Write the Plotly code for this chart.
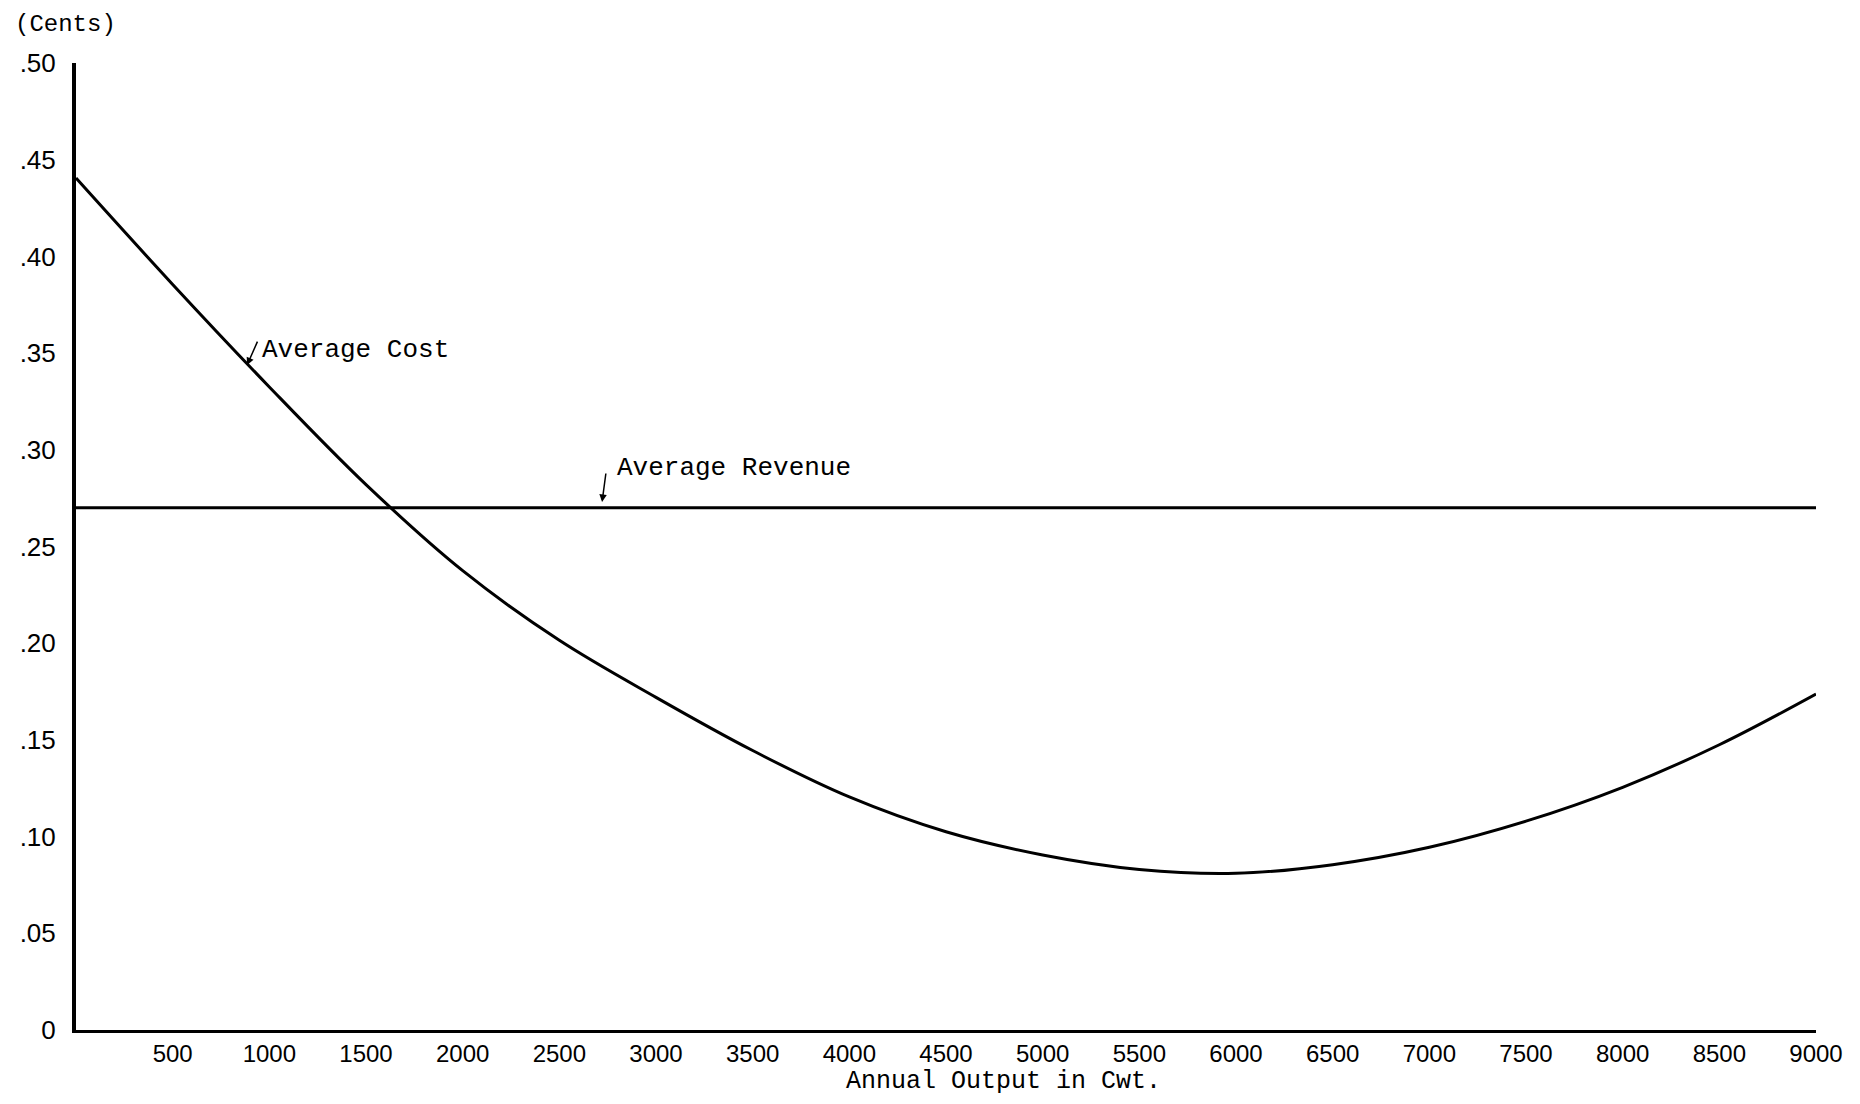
import plotly.graph_objects as go

# ---- data ----
output_cwt = [0, 500, 1000, 1500, 2000, 2500, 3000, 3500, 4000, 4500,
              5000, 5500, 6000, 6500, 7000, 7500, 8000, 8500, 9000]
avg_cost = [0.4405, 0.3855, 0.3325, 0.282, 0.2375, 0.2015, 0.172, 0.1445, 0.1205,
            0.1025, 0.0905, 0.0830, 0.0810, 0.0855, 0.0945, 0.1080, 0.1255, 0.1475, 0.1737]

revenue_cwt = [0, 9000]
avg_revenue = [0.27, 0.27]

x_tickvals = [500, 1000, 1500, 2000, 2500, 3000, 3500, 4000, 4500, 5000,
              5500, 6000, 6500, 7000, 7500, 8000, 8500, 9000]
x_ticktext = ["500", "1000", "1500", "2000", "2500", "3000", "3500", "4000", "4500",
              "5000", "5500", "6000", "6500", "7000", "7500", "8000", "8500", "9000"]
y_tickvals = [0, 0.05, 0.10, 0.15, 0.20, 0.25, 0.30, 0.35, 0.40, 0.45, 0.50]
y_ticktext = ["0", ".05", ".10", ".15", ".20", ".25", ".30", ".35", ".40", ".45", ".50"]

TYPE = "Liberation Mono"
NUM = "Liberation Sans"

fig = go.Figure()
fig.add_trace(go.Scatter(x=output_cwt, y=avg_cost, mode="lines",
                         line=dict(color="black", width=3, shape="spline", smoothing=1.0),
                         name="Average Cost", hoverinfo="x+y"))
fig.add_trace(go.Scatter(x=revenue_cwt, y=avg_revenue, mode="lines",
                         line=dict(color="black", width=3),
                         name="Average Revenue", hoverinfo="x+y"))

# page body has an 8px margin, so the figure is sized to fit the window exactly
fig.update_layout(
    width=1844, height=1088,
    margin=dict(l=68, r=36, t=55, b=66),
    plot_bgcolor="white", paper_bgcolor="white",
    showlegend=False,
    font=dict(family=NUM, color="black", size=24),
)
fig.update_xaxes(range=[0, 9000], tickvals=x_tickvals, ticktext=x_ticktext,
                 showline=True, linewidth=3, linecolor="black", mirror=False,
                 showgrid=False, zeroline=False, ticks="", ticklen=0,
                 tickfont=dict(family=NUM, size=24, color="black"),
                 ticklabelstandoff=0, automargin=False)
fig.update_yaxes(range=[0, 0.5], tickvals=y_tickvals, ticktext=y_ticktext,
                 showline=True, linewidth=4, linecolor="black",
                 showgrid=False, zeroline=False, ticks="", ticklen=0,
                 tickfont=dict(family=NUM, size=26, color="black"),
                 ticklabelstandoff=11, automargin=False)

annotations = [
    dict(text="(Cents)", xref="paper", yref="paper", x=-0.0362, y=1.0403,
         xanchor="left", yanchor="middle", showarrow=False,
         font=dict(family=TYPE, size=24, color="black")),
    dict(text="Annual Output in Cwt.", xref="paper", yref="paper", x=0.533, y=-0.0537,
         xanchor="center", yanchor="middle", showarrow=False,
         font=dict(family=TYPE, size=25, color="black")),
    dict(text="Average Cost", x=952, y=0.3516, xanchor="left", yanchor="middle",
         showarrow=False, font=dict(family=TYPE, size=26, color="black")),
    dict(text="Average Revenue", x=2788, y=0.2906, xanchor="left", yanchor="middle",
         showarrow=False, font=dict(family=TYPE, size=26, color="black")),
    dict(text="", x=885, y=0.3438, ax=11, ay=-25, showarrow=True,
         arrowhead=2, arrowsize=1, arrowwidth=1.5, arrowcolor="black"),
    dict(text="", x=2721, y=0.273, ax=4, ay=-30, showarrow=True,
         arrowhead=2, arrowsize=1, arrowwidth=1.5, arrowcolor="black"),
]
fig.update_layout(annotations=annotations)

fig.write_html("out.html")
